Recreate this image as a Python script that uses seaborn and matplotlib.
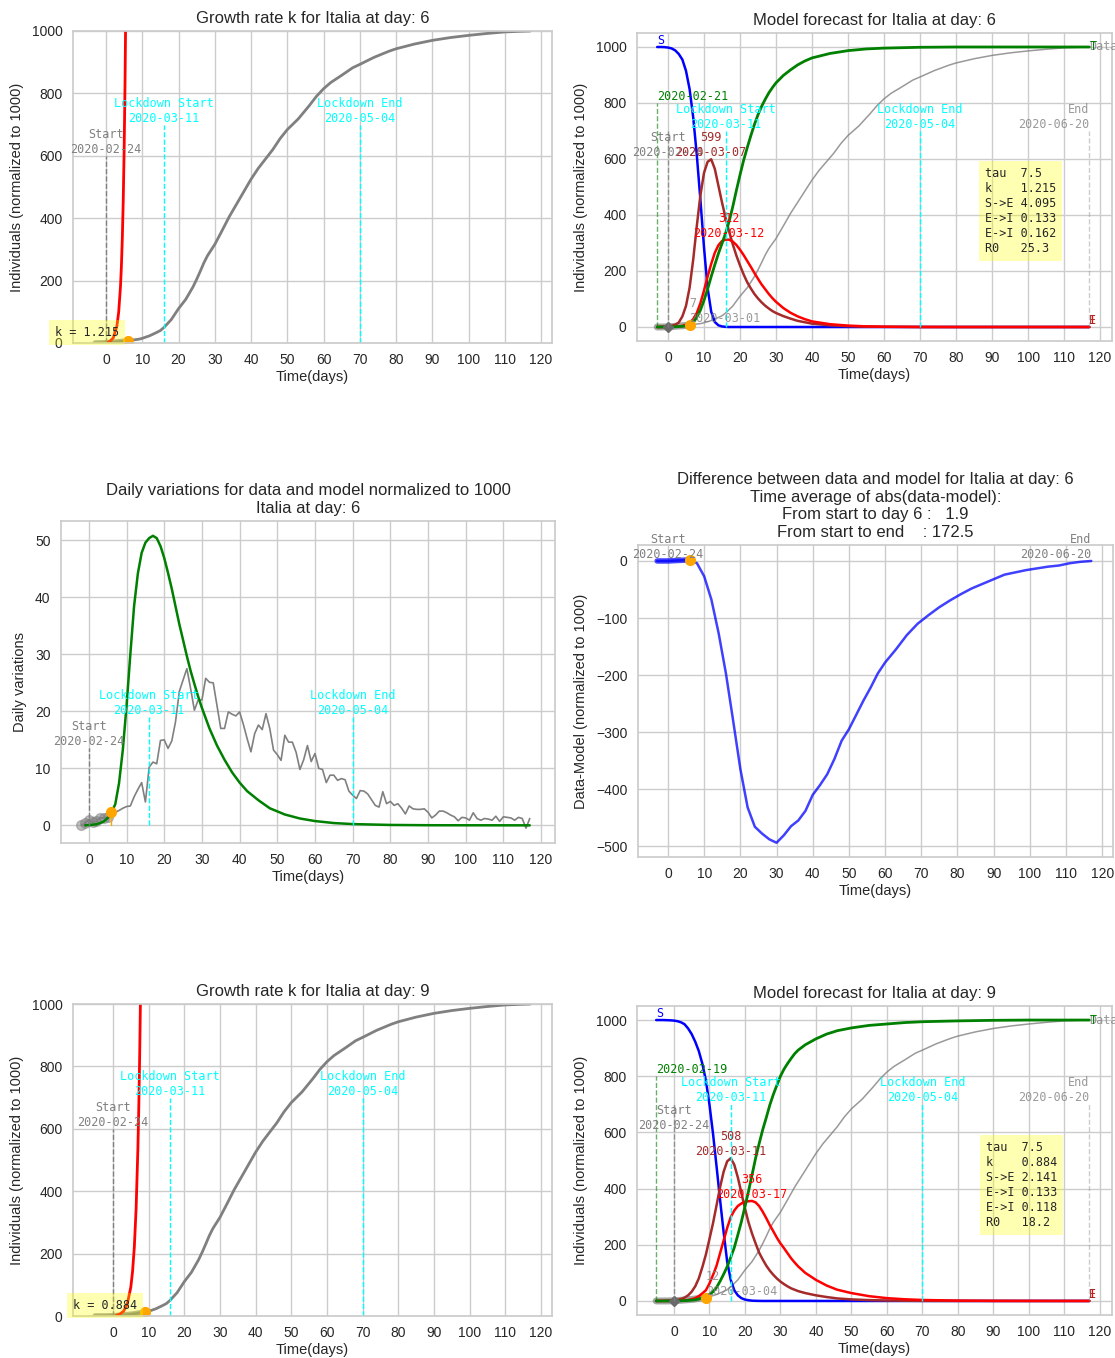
import numpy as np
import matplotlib
matplotlib.use("Agg")
import matplotlib.pyplot as plt
import seaborn as sns

# ==============================
# DATA (normalized to 1000)
# ==============================

# cumulative data (gray curve)
cum_days = [-5, -4, -3, -2, -1, 0, 1, 2, 3, 4, 5, 6, 7, 8, 9, 10,
            12, 14, 15, 16, 18, 20, 22, 23, 24, 25, 26, 27, 28,
            30, 32, 34, 36, 38, 40, 42, 44, 46, 48, 50,
            53, 56, 58, 60, 62, 65, 68, 70,
            74, 78, 80, 85, 90, 95, 100, 105, 110, 114, 117]
cum_vals = [0, 0, 0, 0, 0.3, 1, 1.5, 2.5, 3.5, 4.5, 5.5, 7, 9, 10.5, 12, 15,
            23, 34, 40, 50, 75, 110, 140, 160, 180, 204, 230, 257, 280,
            316, 360, 405, 445, 485, 525, 560, 590, 620, 655, 684,
            718, 760, 790, 815, 835, 858, 882, 893,
            916, 935, 943, 958, 970, 979, 986, 992, 997, 999, 1000]

# daily variations of the data, day -2 .. 117
daily_start = -2
daily_vals = [0, 0.4, 1.0, 0.5, 0.7, 1.3, 1.3, 1.4, 2.0, 2.3,
              2.6, 3.0, 3.3, 3.4, 5.0, 6.3, 7.5, 4.1, 10.2, 11.1,
              10.8, 14.9, 15.0, 13.5, 14.8, 18.2, 23.5, 25.5, 27.5, 24.0,
              20.2, 22.0, 22.0, 25.8, 25.1, 25.0, 21.0, 17.0, 17.0, 19.9,
              19.5, 19.2, 19.9, 17.7, 15.2, 12.9, 16.1, 17.6, 16.8, 19.6,
              17.0, 13.2, 12.4, 11.4, 15.8, 14.6, 14.6, 12.8, 9.8, 11.5,
              14.0, 11.2, 12.6, 10.0, 9.8, 7.5, 8.8, 8.8, 7.9, 8.2,
              8.0, 6.0, 5.3, 4.7, 6.1, 6.0, 5.5, 4.5, 3.5, 3.2,
              5.9, 3.8, 4.2, 3.5, 3.8, 3.0, 2.0, 3.4, 2.9, 2.8,
              2.8, 2.9, 2.3, 1.3, 1.8, 2.5, 2.5, 2.2, 1.8, 1.5,
              0.8, 1.4, 1.3, 0.9, 2.2, 1.2, 0.9, 1.2, 1.1, 0.9,
              1.6, 0.7, 1.5, 1.4, 1.3, 0.9, 1.4, 1.2, -0.5, 1.2]

# exponential growth fits (red)
exp6_days = [0.5, 1, 2, 3, 3.5, 4, 4.25, 4.5, 4.75, 5, 5.25, 5.5]
exp6_vals = [2.5, 4.8, 16, 54, 99, 182, 247, 335, 454, 615, 834, 1130]
exp9_days = [1, 2, 3, 4, 5, 5.5, 6, 6.5, 7, 7.25, 7.5, 7.75, 8]
exp9_vals = [2.7, 6.5, 15.7, 37.6, 91.8, 143, 222, 346, 539, 672, 838, 1045, 1304]

# model at day 6
m6_days = list(range(-3, 31)) + [32, 34, 36, 38, 40, 45, 50, 55, 60, 70, 80, 90, 100, 117]
S6 = [1000, 1000, 999.5, 998, 995, 988, 975, 955, 915, 850, 750, 615, 455, 285, 140, 55,
      18, 6, 2, 0.5, 0, 0, 0, 0, 0, 0, 0, 0, 0, 0, 0, 0, 0, 0,
      0, 0, 0, 0, 0, 0, 0, 0, 0, 0, 0, 0, 0, 0]
E6 = [0, 0.5, 1, 2, 4, 8, 16, 38, 75, 140, 240, 360, 470, 550, 590, 599,
      565, 505, 445, 390, 340, 295, 255, 220, 188, 160, 138, 118, 102, 88, 76, 66, 57, 50,
      39, 30, 22, 17, 12, 6, 3, 1.5, 0.7, 0.1, 0, 0, 0, 0]
I6 = [0, 0, 0, 0.3, 0.5, 1, 2, 4, 8, 15, 28, 50, 85, 130, 180, 225,
      265, 292, 307, 312, 312, 305, 293, 276, 257, 236, 215, 193, 172, 152, 135, 118, 103, 90,
      68, 51, 38, 28, 20, 10, 5, 2.3, 1, 0.2, 0, 0, 0, 0]
T6 = [0, 0, 0, 0.5, 0.7, 1, 1.5, 2.5, 4, 7, 15, 35, 60, 95, 135, 180,
      222, 262, 298, 335, 378, 430, 488, 543, 595, 640, 683, 723, 758, 788, 813, 836, 855, 872,
      898, 918, 936, 950, 961, 977, 987, 993, 996, 999, 1000, 1000, 1000, 1000]

# model at day 9
m9_days = list(range(-5, 36)) + [37, 40, 43, 46, 50, 55, 60, 65, 70, 80, 90, 100, 117]
S9 = [1000, 1000, 1000, 999.5, 999, 998, 996, 992, 985, 970, 950, 923, 890, 845, 785, 700,
      597, 480, 360, 245, 140, 75, 38, 20, 10, 5, 2.5, 1, 0.5, 0.2,
      0, 0, 0, 0, 0, 0, 0, 0, 0, 0, 0,
      0, 0, 0, 0, 0, 0, 0, 0, 0, 0, 0, 0, 0]
E9 = [0, 0.3, 0.6, 1, 1.5, 2.5, 4, 7, 12, 20, 33, 52, 80, 120, 165, 220,
      276, 340, 405, 460, 497, 508, 485, 440, 385, 330, 280, 240, 205, 172,
      148, 126, 108, 93, 80, 69, 60, 52, 45, 40, 35,
      28, 20, 14, 9, 5.5, 3, 1.5, 0.8, 0.4, 0.1, 0, 0, 0]
I9 = [0, 0, 0, 0, 0.2, 0.4, 0.7, 1.2, 2, 3.5, 6, 10, 17, 27, 38, 62,
      92, 125, 170, 215, 260, 298, 322, 338, 347, 353, 355, 356, 351, 338,
      318, 295, 270, 248, 225, 205, 188, 170, 152, 137, 123,
      100, 75, 55, 40, 28, 17, 10, 6, 3.5, 1.2, 0.4, 0.1, 0]
T9 = [0, 0, 0, 0, 0, 0.3, 0.5, 0.8, 1.2, 2, 3, 4, 7, 11, 17, 22,
      33, 48, 70, 95, 122, 155, 190, 235, 282, 335, 390, 448, 508, 560,
      609, 652, 697, 735, 768, 800, 825, 845, 863, 880, 893,
      912, 933, 950, 962, 972, 981, 986, 991, 994, 997, 999, 1000, 1000]

# daily variation of the model (green, day 6)
dm_days = list(range(-1, 31)) + [32, 34, 36, 38, 40, 42, 45, 48, 52, 56, 60, 65, 70, 80, 90, 100, 117]
dm_vals = [0, 0.05, 0.1, 0.2, 0.4, 0.7, 1.3, 2.3, 3.7, 7.4, 13.2, 21, 30, 38.5, 44.2, 47.8,
           49.6, 50.4, 50.8, 50.4, 49.0, 46.9, 44.3, 41.5, 38.4, 35.3, 32.5, 29.7, 27.1, 24.8,
           22.6, 20.6,
           17.0, 14.0, 11.5, 9.3, 7.5, 6.0, 4.4, 3.0, 1.9, 1.2, 0.75, 0.4, 0.22, 0.07, 0.02, 0.01, 0]

# data - model (blue, day 6)
diff_days = [-3, 0, 3, 6, 8, 10, 12, 14, 16, 18, 20, 22, 24, 26, 28, 30, 32, 34, 36, 38,
             40, 42, 44, 46, 48, 50, 52, 54, 56, 58, 60, 63, 66, 69, 72, 75, 78, 81, 84, 87,
             90, 93, 96, 99, 102, 105, 108, 111, 114, 117]
diff_vals = [0, 0, 1, 1.9, -4, -27, -68, -127, -197, -280, -365, -432, -466, -478, -488, -494,
             -481, -465, -455, -438, -410, -393, -374, -347, -315, -295, -270, -245, -222, -197,
             -178, -155, -130, -110, -95, -81, -69, -58, -48, -40, -32, -24, -20, -16, -13, -10,
             -8, -4, -1.5, 0]

# events
start_day, start_date = 0, "2020-02-24"
lock_days = [16, 70]
lock_labels = ["Lockdown Start\n2020-03-11", "Lockdown End\n2020-05-04"]
end_day, end_date = 117, "2020-06-20"

# per-forecast info
fc6 = dict(day=6, fit_start=-3, fit_date="2020-02-21", now_date="2020-03-01",
           e_peak=(12, 599, "2020-03-07"), i_peak=(17, 312, "2020-03-12"),
           params="tau  7.5\nk    1.215\nS->E 4.095\nE->I 0.133\nE->I 0.162\nR0   25.3",
           k="1.215")
fc9 = dict(day=9, fit_start=-5, fit_date="2020-02-19", now_date="2020-03-04",
           e_peak=(16, 508, "2020-03-11"), i_peak=(22, 356, "2020-03-17"),
           params="tau  7.5\nk    0.884\nS->E 2.141\nE->I 0.133\nE->I 0.118\nR0   18.2",
           k="0.884")
daily_model_now = 2.3
avg_to_day, avg_to_end = 1.9, 172.5

# ==============================
# STYLE
# ==============================
sns.set_theme(style="whitegrid")
plt.rcParams['font.family'] = ['Liberation Sans', 'DejaVu Sans']
MONO = 'DejaVu Sans Mono'
MFS = 8.5

W, H = 1115, 1358
fig = plt.figure(figsize=(W / 100, H / 100), dpi=100)


def panel(l, r, t, b):
    return fig.add_axes([l / W, 1 - b / H, (r - l) / W, (b - t) / H])


def curve(ax, x, y, color, lw=1.8, alpha=1.0, **kw):
    sns.lineplot(x=np.asarray(x, float), y=np.asarray(y, float), ax=ax, color=color,
                 linewidth=lw, alpha=alpha, estimator=None, sort=False, **kw)


def mono(ax, x, y, s, color, ha='center', va='bottom', **kw):
    ax.text(x, y, s, color=color, ha=ha, va=va, family=MONO, fontsize=MFS,
            multialignment=ha, **kw)


def vmark(ax, day, top, color, alpha=1.0):
    ax.plot([day, day], [0, top], ls='--', lw=1, color=color, alpha=alpha)


def setup(ax, title, ylabel, xlim, ylim, yticks):
    ax.set_title(title, fontsize=12)
    ax.set_xlabel('Time(days)', fontsize=10.5, labelpad=2)
    ax.set_ylabel(ylabel, fontsize=10.5, labelpad=5.5)
    ax.set_xlim(xlim)
    ax.set_ylim(ylim)
    ax.set_xticks(range(0, 121, 10))
    ax.set_yticks(yticks)
    ax.tick_params(labelsize=10, pad=1.5)


def window(days, vals, lo, hi):
    d = np.asarray(days, float)
    v = np.asarray(vals, float)
    m = (d >= lo) & (d <= hi)
    return d[m], v[m]


def cum_at(day):
    return cum_vals[cum_days.index(day)]


def growth_panel(ax, fc, exp_days, exp_vals, xlim, k_x):
    d, v = window(cum_days, cum_vals, fc['fit_start'], 200)
    curve(ax, d, v, 'gray', lw=2)
    wd, wv = window(cum_days, cum_vals, fc['fit_start'], fc['day'])
    curve(ax, wd, wv, 'gray', lw=4, alpha=0.7)
    curve(ax, exp_days, exp_vals, 'red', lw=2)
    ax.plot(fc['day'], cum_at(fc['day']), 'o', color='orange', ms=7)
    vmark(ax, start_day, 600, 'gray')
    mono(ax, start_day, 600, "Start\n" + start_date, 'gray')
    for ld, lab in zip(lock_days, lock_labels):
        vmark(ax, ld, 700, 'cyan')
        mono(ax, ld, 700, lab, 'cyan')
    ax.text(k_x, 33, "k = " + fc['k'], family=MONO, fontsize=MFS, ha='left', va='center',
            bbox=dict(boxstyle='square,pad=0.5', fc='yellow', ec='none', alpha=0.3))
    setup(ax, "Growth rate k for Italia at day: %d" % fc['day'],
          "Individuals (normalized to 1000)", xlim, (0, 1000), range(0, 1001, 200))


def forecast_panel(ax, fc, days, S, E, I, T, xlim):
    d, v = window(cum_days, cum_vals, fc['fit_start'], 200)
    curve(ax, d, v, 'gray', lw=1.1, alpha=0.8)
    wd, wv = window(cum_days, cum_vals, fc['fit_start'], fc['day'])
    curve(ax, wd, wv, 'gray', lw=5, alpha=0.7)
    curve(ax, days, S, 'blue')
    curve(ax, days, E, 'brown')
    curve(ax, days, I, 'red')
    curve(ax, days, T, 'green', lw=2)
    ax.plot(start_day, 0, 'D', color='dimgray', ms=5)
    now = cum_at(fc['day'])
    ax.plot(fc['day'], now, 'o', color='orange', ms=7)

    vmark(ax, fc['fit_start'], 800, 'green', alpha=0.6)
    mono(ax, fc['fit_start'], 800, fc['fit_date'], 'green', ha='left')
    vmark(ax, start_day, 700, 'gray', alpha=0.8)
    mono(ax, start_day, 600, "Start\n" + start_date, 'gray')
    for ld, lab in zip(lock_days, lock_labels):
        vmark(ax, ld, 700, 'cyan')
        mono(ax, ld, 700, lab, 'cyan')
    vmark(ax, end_day, 700, 'gray', alpha=0.4)
    mono(ax, end_day, 700, "End\n" + end_date, 'gray', ha='right', alpha=0.8)

    ed, ev, edate = fc['e_peak']
    mono(ax, ed, ev, "%d\n%s" % (ev, edate), 'brown')
    idy, iv, idate = fc['i_peak']
    mono(ax, idy, iv, "%d\n%s" % (iv, idate), 'red')
    mono(ax, fc['day'], now, "%d\n%s" % (now, fc['now_date']), 'gray', ha='left', alpha=0.8)

    mono(ax, fc['fit_start'], S[0], "S", 'blue', ha='left')
    mono(ax, end_day, T[-1], "Data", 'gray', ha='left', va='center', alpha=0.8)
    mono(ax, end_day, T[-1], "T", 'green', ha='left', va='center')
    mono(ax, end_day, I[-1], "I", 'red', ha='left')
    mono(ax, end_day, E[-1], "E", 'brown', ha='left')

    ax.text(88, 570, fc['params'], family=MONO, fontsize=MFS, ha='left', va='top',
            bbox=dict(boxstyle='square,pad=0.5', fc='yellow', ec='none', alpha=0.3))
    setup(ax, "Model forecast for Italia at day: %d" % fc['day'],
          "Individuals (normalized to 1000)", xlim, (-50, 1050), range(0, 1001, 200))


# ==============================
# PANELS
# ==============================
ax1 = panel(73, 552, 31, 343)
growth_panel(ax1, fc6, exp6_days, exp6_vals, (-9.1, 123), -14)

ax2 = panel(637, 1112, 33, 341)
forecast_panel(ax2, fc6, m6_days, S6, E6, I6, T6, (-8.6, 123.3))

# daily variations
ax3 = panel(61, 555, 521, 843)
dd = np.arange(daily_start, daily_start + len(daily_vals))
curve(ax3, dd, daily_vals, 'gray', lw=1.2)
wd, wv = window(dd, daily_vals, daily_start, fc6['day'] - 1)
ax3.plot(wd, wv, 'o', color='gray', ms=7, alpha=0.5)
curve(ax3, dm_days, dm_vals, 'green', lw=1.8)
ax3.plot([fc6['day'], fc6['day']], [0, daily_model_now], color='orange', lw=1)
ax3.plot(fc6['day'], daily_model_now, 'o', color='orange', ms=7)
vmark(ax3, start_day, 13.5, 'gray')
mono(ax3, start_day, 13.5, "Start\n" + start_date, 'gray')
for ld, lab in zip(lock_days, lock_labels):
    vmark(ax3, ld, 19, 'cyan')
    mono(ax3, ld, 19, lab, 'cyan')
setup(ax3, "Daily variations for data and model normalized to 1000\nItalia at day: 6",
      "Daily variations", (-7.4, 123.7), (-3.1, 53.4), range(0, 51, 10))

# data - model
ax4 = panel(638, 1113, 545, 857)
curve(ax4, diff_days, diff_vals, 'blue', lw=1.8, alpha=0.75)
wd, wv = window(diff_days, diff_vals, -3, fc6['day'])
curve(ax4, wd, wv, 'blue', lw=4, alpha=0.7)
ax4.plot(fc6['day'], avg_to_day, 'o', color='orange', ms=7)
mono(ax4, start_day, 0, "Start\n" + start_date, 'gray')
mono(ax4, end_day, 0, "End\n" + end_date, 'gray', ha='right')
setup(ax4, "Difference between data and model for Italia at day: 6\n"
           "Time average of abs(data-model):\n"
           "From start to day 6 :   %.1f\n"
           "From start to end    : %.1f" % (avg_to_day, avg_to_end),
      "Data-Model (normalized to 1000)", (-8.3, 123), (-519, 28), range(-500, 1, 100))

ax5 = panel(73, 552, 1004, 1316)
growth_panel(ax5, fc9, exp9_days, exp9_vals, (-11.2, 123.1), -11.2)

ax6 = panel(637, 1112, 1006, 1315)
forecast_panel(ax6, fc9, m9_days, S9, E9, I9, T9, (-10.4, 123.4))

fig.savefig("out.png", dpi=100)
print("saved out.png")
